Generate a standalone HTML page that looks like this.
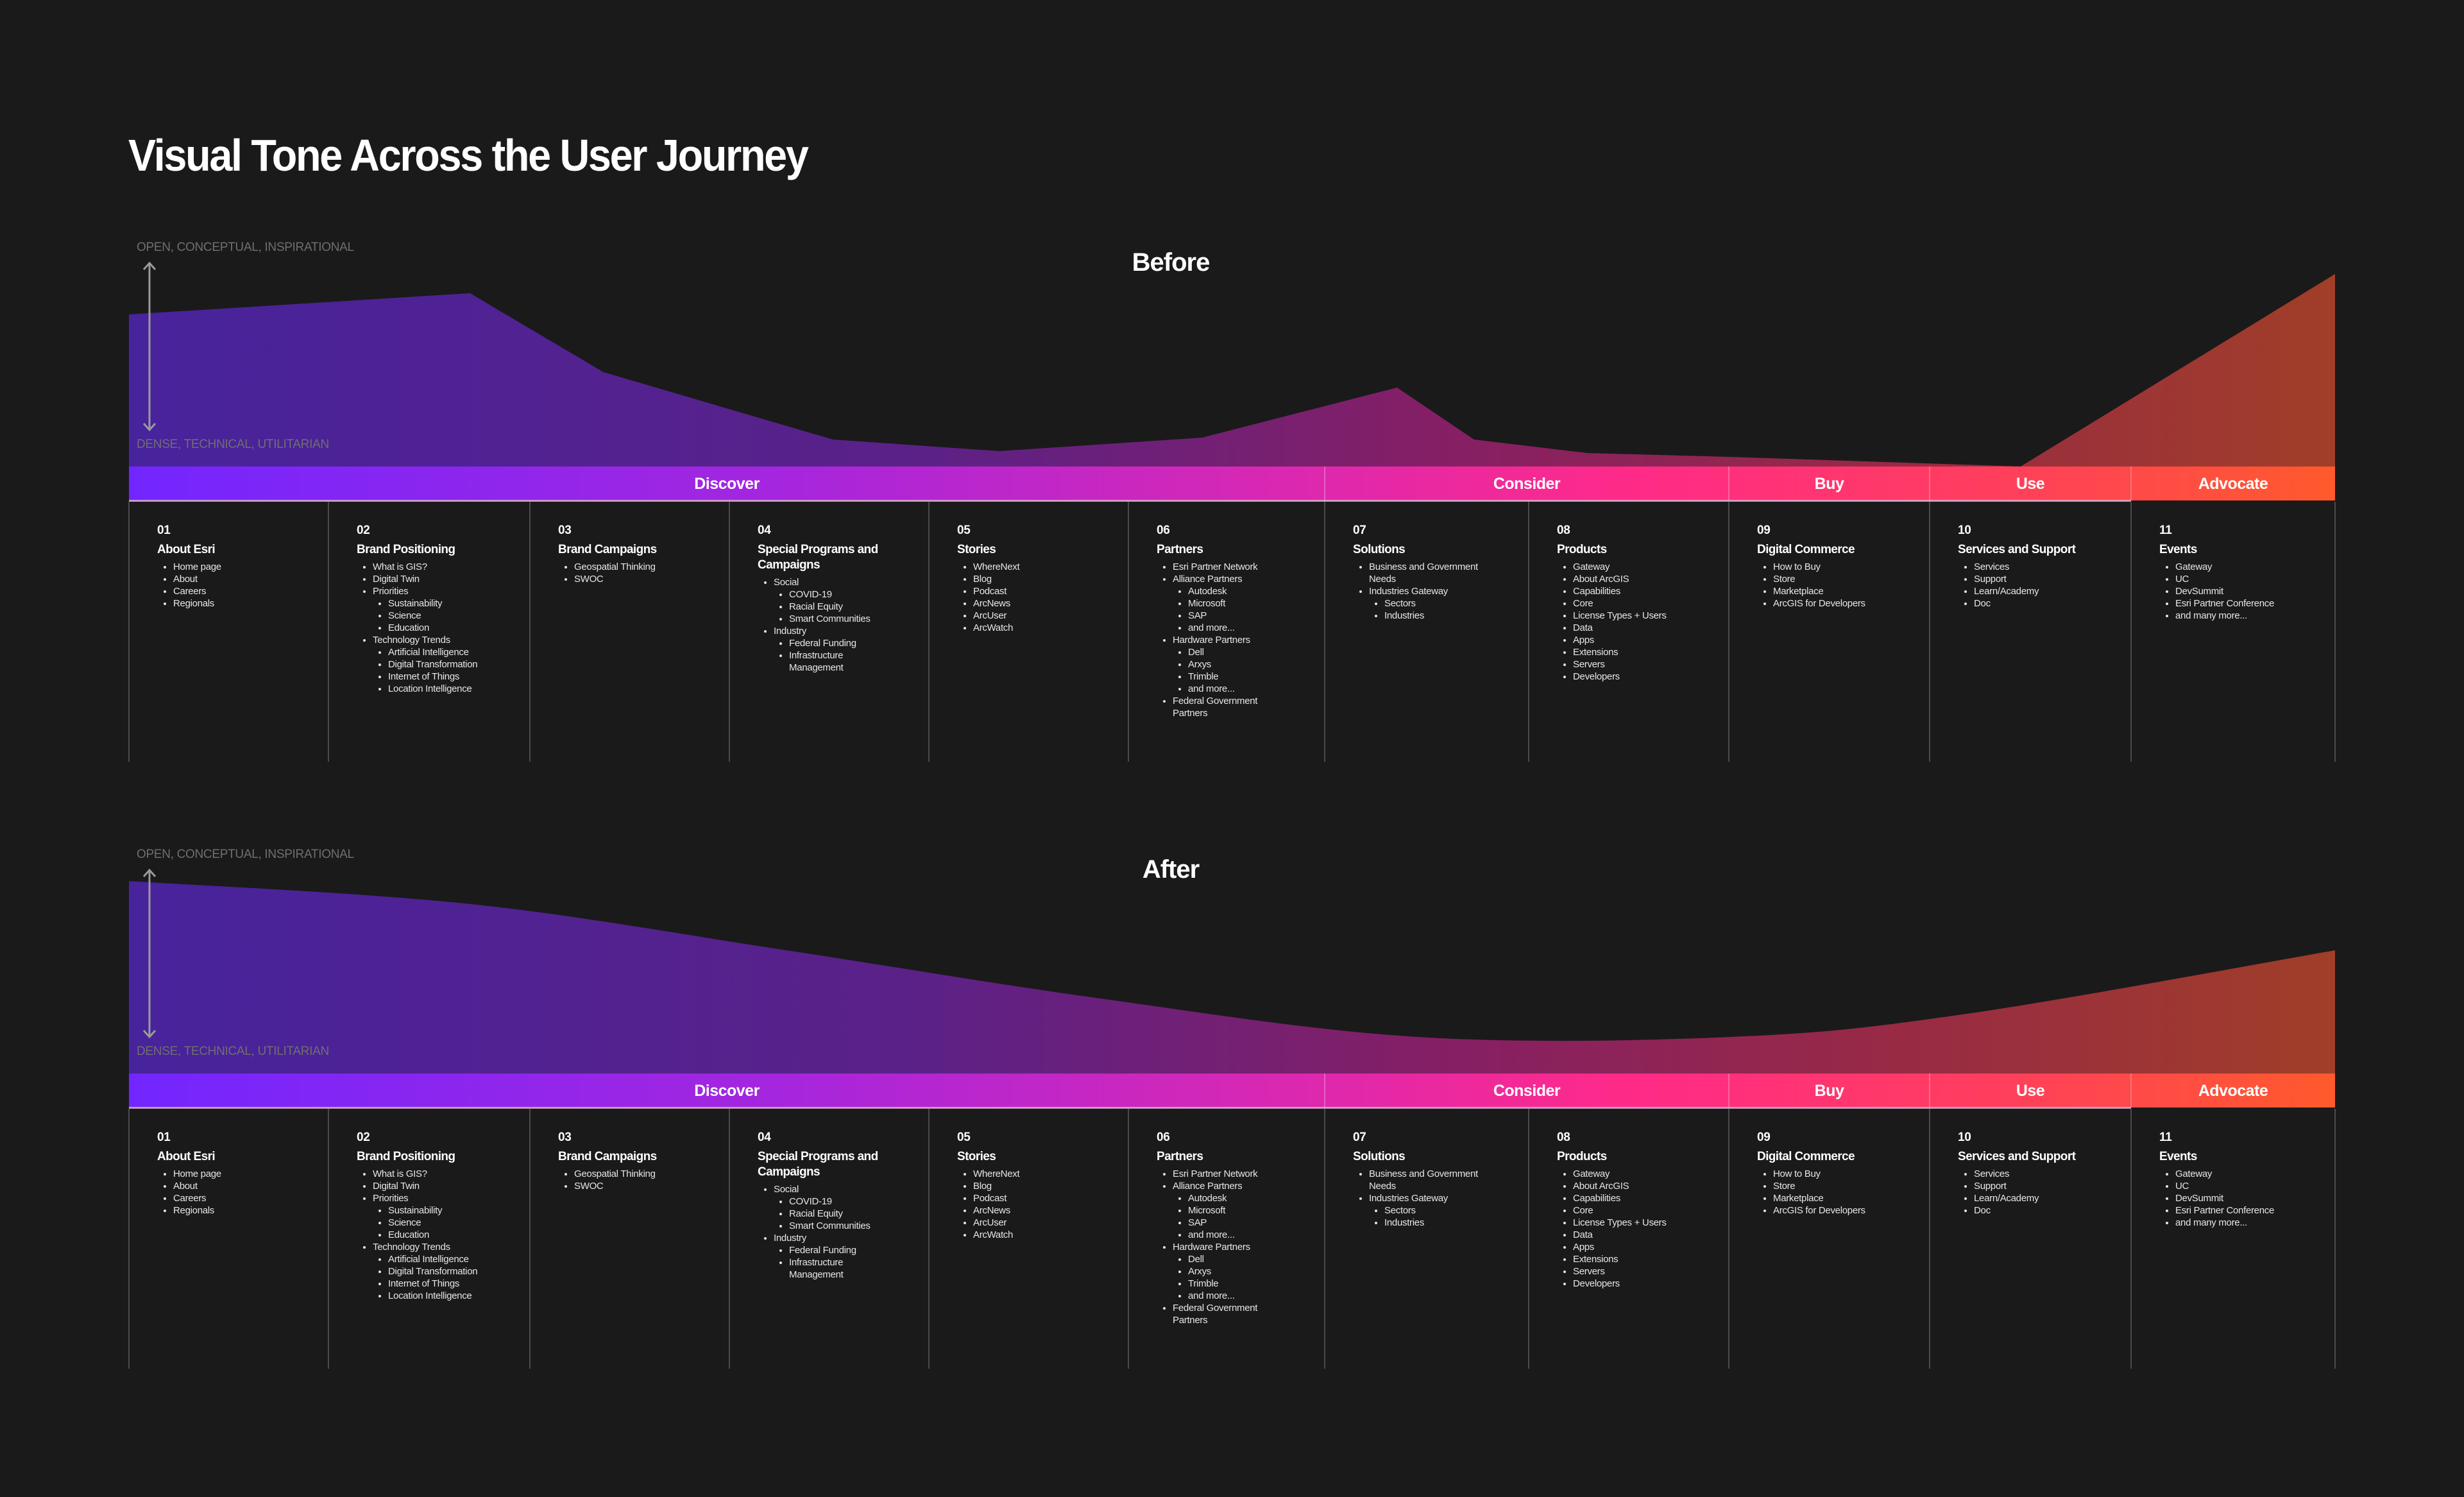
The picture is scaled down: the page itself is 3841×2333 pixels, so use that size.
<!DOCTYPE html>
<html><head><meta charset="utf-8">
<style>
html,body{margin:0;padding:0;background:#1a1a1a;}
#page{position:relative;width:3841px;height:2333px;background:#1a1a1a;overflow:hidden;font-family:"Liberation Sans",sans-serif;color:#fff;}
.abs{position:absolute;}
.title{left:200px;top:202px;font-size:70px;font-weight:bold;letter-spacing:-2.5px;white-space:nowrap;transform:scaleX(0.925);transform-origin:0 0;}
.ptitle{font-size:40px;font-weight:bold;width:400px;text-align:center;letter-spacing:-1px;}
.axl{font-size:19px;color:#6f6f6f;white-space:nowrap;letter-spacing:-0.3px;}
.col{font-size:15px;line-height:19px;color:#e6e6e6;letter-spacing:-0.3px;}
.col .num{font-size:19px;font-weight:bold;color:#fff;line-height:22px;}
.col .hd{font-size:19px;font-weight:bold;color:#fff;line-height:24px;margin-top:7px;margin-bottom:5px;letter-spacing:-0.6px;}
.col ul{margin:0;padding:0 0 0 25px;list-style:disc;}
.col ul ul{padding-left:24px;}
.col li{margin:0;}
.phase{font-size:25px;font-weight:bold;text-align:center;line-height:54px;letter-spacing:-0.5px;}
</style></head>
<body>
<div id="page">
<div class="abs title">Visual Tone Across the User Journey</div>
<svg id="chart" class="abs" style="left:0;top:0" width="3841" height="2333">
<defs>
<linearGradient id="areaGrad" x1="201" x2="3640" y1="0" y2="0" gradientUnits="userSpaceOnUse">
<stop offset="0" stop-color="#47239c"/>
<stop offset="0.35" stop-color="#5a2188"/>
<stop offset="0.6" stop-color="#861f64"/>
<stop offset="0.8" stop-color="#982a45"/>
<stop offset="1" stop-color="#a03e28"/>
</linearGradient>
<linearGradient id="barGrad" x1="201" x2="3640" y1="0" y2="0" gradientUnits="userSpaceOnUse">
<stop offset="0" stop-color="#7226ff"/>
<stop offset="0.3" stop-color="#a626dd"/>
<stop offset="0.54" stop-color="#de28ae"/>
<stop offset="0.68" stop-color="#ff2a88"/>
<stop offset="0.85" stop-color="#ff3f5c"/>
<stop offset="1" stop-color="#ff5a2c"/>
</linearGradient>
</defs>
</svg>
</div>
<script>
// Data: position along journey (0..1) and tone level (0 = dense, 1 = open)
const beforePos = [0, 0.1546, 0.2151, 0.3191, 0.3946, 0.4865, 0.5748, 0.6097, 0.6610, 0.7251, 0.8575, 1];
const beforeTone = [0.79, 0.90, 0.49, 0.14, 0.08, 0.15, 0.41, 0.14, 0.07, 0.05, 0, 1.0];
const afterPos = [0, 0.155, 0.298, 0.44, 0.584, 0.726, 0.833, 1];
const afterTone = [1.0, 0.88, 0.64, 0.39, 0.19, 0.19, 0.31, 0.64];
const phaseNames = ["Discover", "Consider", "Buy", "Use", "Advocate"];
const phaseStart = [0, 6, 8, 9, 10];
const phaseEnd = [6, 8, 9, 10, 11];
const colNums = ["01","02","03","04","05","06","07","08","09","10","11"];
const colTitles = ["About Esri","Brand Positioning","Brand Campaigns","Special Programs and<br>Campaigns","Stories","Partners","Solutions","Products","Digital Commerce","Services and Support","Events"];
const colItems = [
 ["Home page","About","Careers","Regionals"],
 ["What is GIS?","Digital Twin",["Priorities",["Sustainability","Science","Education"]],["Technology Trends",["Artificial Intelligence","Digital Transformation","Internet of Things","Location Intelligence"]]],
 ["Geospatial Thinking","SWOC"],
 [["Social",["COVID-19","Racial Equity","Smart Communities"]],["Industry",["Federal Funding","Infrastructure<br>Management"]]],
 ["WhereNext","Blog","Podcast","ArcNews","ArcUser","ArcWatch"],
 ["Esri Partner Network",["Alliance Partners",["Autodesk","Microsoft","SAP","and more..."]],["Hardware Partners",["Dell","Arxys","Trimble","and more..."]],"Federal Government<br>Partners"],
 ["Business and Government<br>Needs",["Industries Gateway",["Sectors","Industries"]]],
 ["Gateway","About ArcGIS","Capabilities","Core","License Types + Users","Data","Apps","Extensions","Servers","Developers"],
 ["How to Buy","Store","Marketplace","ArcGIS for Developers"],
 ["Services","Support","Learn/Academy","Doc"],
 ["Gateway","UC","DevSummit","Esri Partner Conference","and many more..."]
];
const colEdges = [201,512,826,1137,1448,1759,2065,2383,2695,3008,3322,3640];

const NS = "http://www.w3.org/2000/svg";
const svg = document.getElementById("chart");
const page = document.getElementById("page");
const X0 = 201, X1 = 3640, UNIT = 300;
function xScale(p){ return X0 + p*(X1-X0); }
function yScale(v, base){ return base - v*UNIT; }

function smoothPath(pts){
  let d = "M"+pts[0][0]+","+pts[0][1];
  for(let i=0;i<pts.length-1;i++){
    const p0=pts[Math.max(0,i-1)], p1=pts[i], p2=pts[i+1], p3=pts[Math.min(pts.length-1,i+2)];
    const t=6;
    const c1=[p1[0]+(p2[0]-p0[0])/t, p1[1]+(p2[1]-p0[1])/t];
    const c2=[p2[0]-(p3[0]-p1[0])/t, p2[1]-(p3[1]-p1[1])/t];
    d+=" C"+c1[0]+","+c1[1]+" "+c2[0]+","+c2[1]+" "+p2[0]+","+p2[1];
  }
  return d;
}

function addText(cls, txt, left, top, name, extra){
  const el=document.createElement("div");
  el.className="abs "+cls;
  el.innerHTML=txt;
  el.style.left=left+"px"; el.style.top=top+"px";
  if(extra) Object.assign(el.style, extra);
  
  
  page.appendChild(el);
  return el;
}

function listHTML(items){
  let h="<ul>";
  items.forEach(it=>{
    if(Array.isArray(it)) h+="<li>"+it[0]+listHTML(it[1])+"</li>";
    else h+="<li>"+it+"</li>";
  });
  return h+"</ul>";
}

function panel(off, label, pos, tone, smooth){
  const base = 727 + off;
  addText("ptitle", label, 1625, 387+off, label.toLowerCase()+"-panel-title");
  addText("axl", "OPEN, CONCEPTUAL, INSPIRATIONAL", 213, 375+off, label.toLowerCase()+"-axis-top-label");
  addText("axl", "DENSE, TECHNICAL, UTILITARIAN", 213, 682+off, label.toLowerCase()+"-axis-bottom-label");
  const pts = pos.map((p,i)=>[xScale(p), yScale(tone[i], base)]);
  let d = smooth ? smoothPath(pts) : "M"+pts.map(p=>p[0]+","+p[1]).join(" L");
  d += " L"+X1+","+base+" L"+X0+","+base+" Z";
  const area=document.createElementNS(NS,"path");
  area.setAttribute("d",d); area.setAttribute("fill","url(#areaGrad)");
  
  
  svg.appendChild(area);
  const ax=document.createElementNS(NS,"path");
  ax.setAttribute("d","M233,"+(410+off)+" L233,"+(670+off)+" M224,"+(420+off)+" L233,"+(410+off)+" L242,"+(420+off)+" M224,"+(660+off)+" L233,"+(670+off)+" L242,"+(660+off));
  ax.setAttribute("stroke","#9a9a9a"); ax.setAttribute("stroke-width","3"); ax.setAttribute("fill","none");
  
  
  svg.appendChild(ax);
  const bar=document.createElementNS(NS,"rect");
  bar.setAttribute("x",X0); bar.setAttribute("y",base); bar.setAttribute("width",X1-X0); bar.setAttribute("height",53);
  bar.setAttribute("fill","url(#barGrad)");
  
  
  svg.appendChild(bar);
  const bl=document.createElementNS(NS,"rect");
  bl.setAttribute("x",X0); bl.setAttribute("y",base+52); bl.setAttribute("width",colEdges[10]-X0); bl.setAttribute("height",3);
  bl.setAttribute("fill","#e8b8dc"); bl.setAttribute("opacity","0.8");
  
  
  svg.appendChild(bl);
  phaseNames.forEach((n,i)=>{
    const a=colEdges[phaseStart[i]], b=colEdges[phaseEnd[i]];
    if(i>0){
      const sep=document.createElementNS(NS,"line");
      sep.setAttribute("x1",a); sep.setAttribute("x2",a); sep.setAttribute("y1",base); sep.setAttribute("y2",base+53);
      sep.setAttribute("stroke","rgba(255,255,255,0.25)"); sep.setAttribute("stroke-width","2");
      
      
      svg.appendChild(sep);
    }
    addText("phase", n, a, base, label.toLowerCase()+"-phase-"+n.toLowerCase(), {width:(b-a)+"px"});
  });
  colEdges.forEach((x,i)=>{
    const ln=document.createElementNS(NS,"line");
    ln.setAttribute("x1",x); ln.setAttribute("x2",x); ln.setAttribute("y1",base+55); ln.setAttribute("y2",base+460);
    ln.setAttribute("stroke","#4a4a4a"); ln.setAttribute("stroke-width","2");
    
    
    svg.appendChild(ln);
  });
  colNums.forEach((n,i)=>{
    const html='<div class="num">'+n+'</div><div class="hd">'+colTitles[i]+'</div>'+listHTML(colItems[i]);
    addText("col", html, colEdges[i]+44, base+89, label.toLowerCase()+"-column-"+n, {width:(colEdges[i+1]-colEdges[i]-50)+"px"});
  });
}
panel(0, "Before", beforePos, beforeTone, false);
panel(946, "After", afterPos, afterTone, true);
</script>
</body></html>
